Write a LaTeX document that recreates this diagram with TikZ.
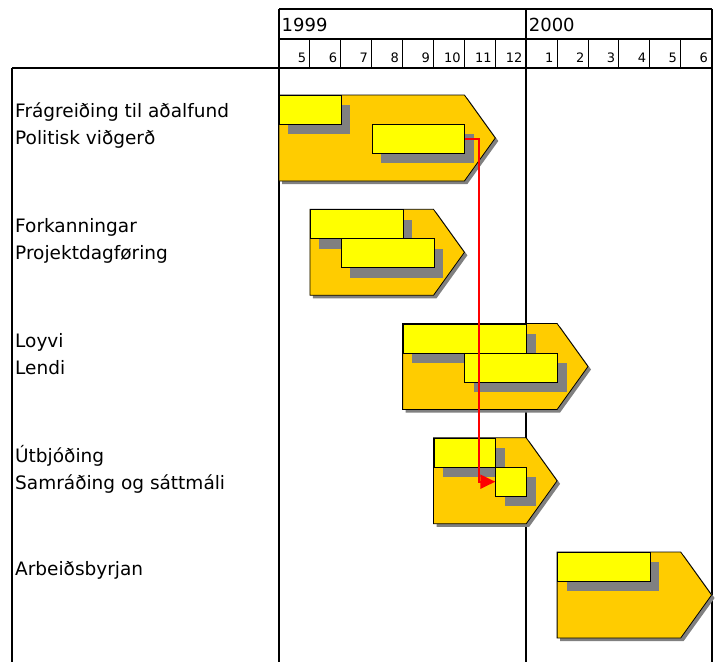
\documentclass[tikz,border=0pt]{standalone}
\usepackage{fontspec}
\setmainfont{DejaVu Sans}
\usetikzlibrary{shadows,arrows.meta}
\definecolor{phaseorange}{HTML}{FFCC00}
\definecolor{barshade}{HTML}{808080}
\definecolor{baryellow}{HTML}{FFFF00}
\definecolor{linkred}{HTML}{FF0000}

\begin{document}
\begin{tikzpicture}[x=1pt, y=-1pt,
    gridline/.style={line width=1.8pt},
    monthline/.style={line width=1pt},
    phase/.style={draw=black, line width=0.8pt, fill=phaseorange, drop shadow={shadow xshift=3pt, shadow yshift=-3pt, fill=barshade, opacity=1}},
    bar/.style={draw=black, line width=0.8pt, fill=baryellow, inner sep=0pt, anchor=north west, minimum height=29pt, drop shadow={shadow xshift=9pt, shadow yshift=-10pt, fill=barshade, opacity=1}},
    lbl/.style={anchor=base west, inner sep=0pt, font=\fontsize{18.5}{22}\selectfont},
    yearlbl/.style={anchor=base west, inner sep=0pt, font=\fontsize{18}{22}\selectfont},
    monthlbl/.style={anchor=base east, inner sep=0pt, font=\fontsize{13}{15}\selectfont}]
        \useasboundingbox (0,0) rectangle (716,662);
        % frame
        \draw[gridline] (279,9) -- (711.6,9);
        \draw[gridline] (279,39) -- (711.6,39);
        \draw[gridline] (12,68) -- (711.6,68);
        \draw[gridline] (12,68) -- (12,662);
        \draw[gridline] (279,9) -- (279,662);
        \draw[gridline] (526.2,9) -- (526.2,662);
        \draw[gridline] (711.6,9) -- (711.6,662);
        % month cells
        \draw[monthline] (309.9,39) -- (309.9,68);
        \draw[monthline] (340.8,39) -- (340.8,68);
        \draw[monthline] (371.7,39) -- (371.7,68);
        \draw[monthline] (402.6,39) -- (402.6,68);
        \draw[monthline] (433.5,39) -- (433.5,68);
        \draw[monthline] (464.4,39) -- (464.4,68);
        \draw[monthline] (495.3,39) -- (495.3,68);
        \draw[monthline] (557.1,39) -- (557.1,68);
        \draw[monthline] (588,39) -- (588,68);
        \draw[monthline] (618.9,39) -- (618.9,68);
        \draw[monthline] (649.8,39) -- (649.8,68);
        \draw[monthline] (680.7,39) -- (680.7,68);
        % years
        \node[yearlbl] (y99) at (281.5,31) {1999};
        \node[yearlbl] (y00) at (528.7,31) {2000};
        % months
        \node[monthlbl] (may99) at (306.4,62) {5};
        \node[monthlbl] (jun99) at (337.3,62) {6};
        \node[monthlbl] (jul99) at (368.2,62) {7};
        \node[monthlbl] (aug99) at (399.1,62) {8};
        \node[monthlbl] (sep99) at (430,62) {9};
        \node[monthlbl] (oct99) at (460.9,62) {10};
        \node[monthlbl] (nov99) at (491.8,62) {11};
        \node[monthlbl] (dec99) at (522.7,62) {12};
        \node[monthlbl] (jan00) at (553.6,62) {1};
        \node[monthlbl] (feb00) at (584.5,62) {2};
        \node[monthlbl] (mar00) at (615.4,62) {3};
        \node[monthlbl] (apr00) at (646.3,62) {4};
        \node[monthlbl] (may00) at (677.2,62) {5};
        \node[monthlbl] (jun00) at (708.1,62) {6};
        % task names
        \node[lbl] (t1a) at (15,117) {Frágreiðing til aðalfund};
        \node[lbl] (t1b) at (15,144) {Politisk viðgerð};
        \node[lbl] (t2a) at (15,232) {Forkanningar};
        \node[lbl] (t2b) at (15,259) {Projektdagføring};
        \node[lbl] (t3a) at (15,347) {Loyvi};
        \node[lbl] (t3b) at (15,374) {Lendi};
        \node[lbl] (t4a) at (15,462) {Útbjóðing};
        \node[lbl] (t4b) at (15,489) {Samráðing og sáttmáli};
        \node[lbl] (t5a) at (15,575) {Arbeiðsbyrjan};
        % phase 1
        \filldraw[phase] (279,95) -- (464.4,95) -- (495.3,138) -- (464.4,181) -- (279,181) -- cycle;
        \node[bar, minimum width=61.8pt] (b1a) at (279,95) {};
        \node[bar, minimum width=92.7pt] (b1b) at (371.7,124) {};
        % phase 2
        \filldraw[phase] (309.9,209.3) -- (433.5,209.3) -- (464.4,252.3) -- (433.5,295.3) -- (309.9,295.3) -- cycle;
        \node[bar, minimum width=92.7pt] (b2a) at (309.9,209.3) {};
        \node[bar, minimum width=92.7pt] (b2b) at (340.8,238.3) {};
        % phase 3
        \filldraw[phase] (402.6,323.5) -- (557.1,323.5) -- (588,366.5) -- (557.1,409.5) -- (402.6,409.5) -- cycle;
        \node[bar, minimum width=123.6pt] (b3a) at (402.6,323.5) {};
        \node[bar, minimum width=92.7pt] (b3b) at (464.4,352.5) {};
        % phase 4
        \filldraw[phase] (433.5,437.8) -- (526.2,437.8) -- (557.1,480.8) -- (526.2,523.8) -- (433.5,523.8) -- cycle;
        \node[bar, minimum width=61.8pt] (b4a) at (433.5,437.8) {};
        \node[bar, minimum width=30.9pt] (b4b) at (495.3,466.8) {};
        % phase 5
        \filldraw[phase] (557.1,552) -- (680.7,552) -- (711.6,595) -- (680.7,638) -- (557.1,638) -- cycle;
        \node[bar, minimum width=92.7pt] (b5a) at (557.1,552) {};
        % link
        \draw[draw=linkred, line width=2pt, -{Triangle[length=15pt, width=14pt, fill=linkred]}] (b1b.east) -- ++(14,0) |- (b4b.west);
    \end{tikzpicture}
\end{document}
